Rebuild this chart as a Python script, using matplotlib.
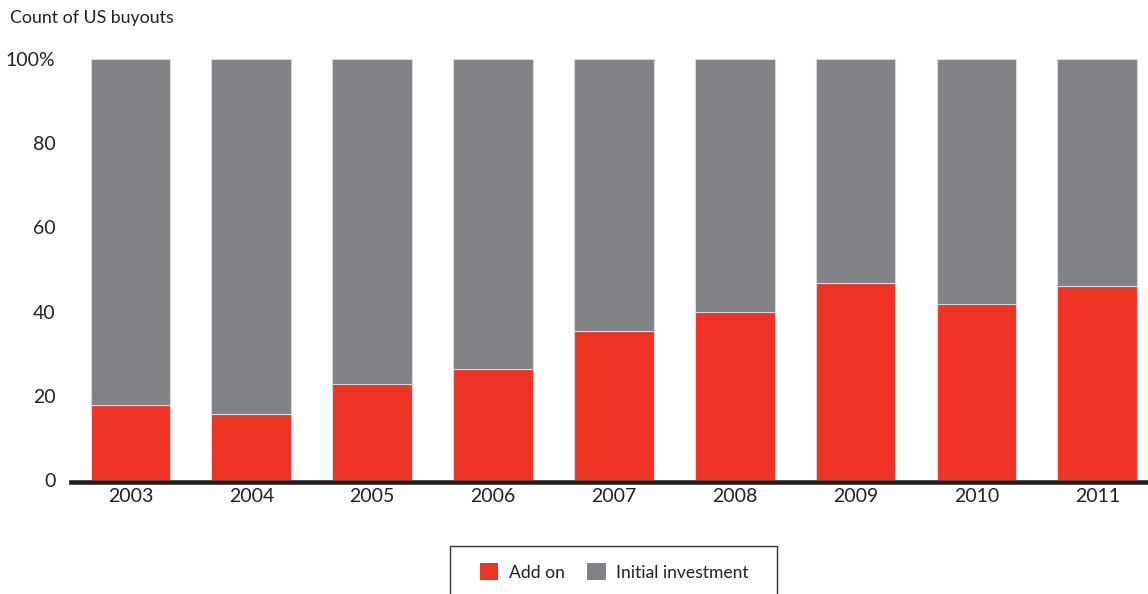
import matplotlib
matplotlib.use("Agg")
import matplotlib.pyplot as plt
import numpy as np
from matplotlib.patches import Patch, Rectangle

# -----------------------------------
# DATA
# -----------------------------------

years = ["2003", "2004", "2005", "2006", "2007", "2008", "2009", "2010", "2011"]

add_on = [17.9, 15.7, 22.9, 26.4, 35.4, 39.8, 46.7, 41.8, 46.0]

initial_investment = [100 - v for v in add_on]

y_ticks = [0, 20, 40, 60, 80, 100]
y_tick_labels = ["0", "20", "40", "60", "80", "100%"]

# -----------------------------------
# STYLE
# -----------------------------------

RED = "#ee3224"
GRAY = "#818286"
EDGE = "#d9d9d9"
TEXT = "#231f20"

plt.rcParams["font.family"] = ["Lato", "DejaVu Sans"]

# -----------------------------------
# FIGURE
# -----------------------------------

fig = plt.figure(figsize=(11.48, 5.94), dpi=100)

ax = fig.add_axes([0.0616, 0.192, 0.9384, 0.7087])

x = np.arange(len(years))

ax.bar(
    x,
    add_on,
    width=0.66,
    color=RED,
    edgecolor=EDGE,
    linewidth=0.8,
    label="Add on"
)

ax.bar(
    x,
    initial_investment,
    bottom=add_on,
    width=0.66,
    color=GRAY,
    edgecolor=EDGE,
    linewidth=0.8,
    label="Initial investment"
)

# thick baseline
ax.axhline(-0.4, color=TEXT, linewidth=3.3, zorder=5, clip_on=False)

ax.set_xlim(-0.495, 8.42)
ax.set_ylim(0, 100)

ax.set_xticks(x)
ax.set_xticklabels(years, fontsize=14, color=TEXT)

ax.set_yticks(y_ticks)
ax.set_yticklabels(y_tick_labels, fontsize=14, color=TEXT)

ax.tick_params(axis="both", length=0)
ax.tick_params(axis="x", pad=6)
ax.tick_params(axis="y", pad=11)

for side in ["top", "right", "left", "bottom"]:
    ax.spines[side].set_visible(False)

# -----------------------------------
# TITLE
# -----------------------------------

fig.text(
    0.009,
    0.97,
    "Count of US buyouts",
    fontsize=12.8,
    color=TEXT,
    ha="left",
    va="center"
)

# -----------------------------------
# LEGEND
# -----------------------------------

handles = [
    Patch(facecolor=RED, edgecolor="none", label="Add on"),
    Patch(facecolor=GRAY, edgecolor="none", label="Initial investment")
]

leg = fig.legend(
    handles=handles,
    loc="center",
    bbox_to_anchor=(0.535, 0.037),
    ncol=2,
    frameon=False,
    fontsize=12.6,
    handlelength=1.05,
    handleheight=1.05,
    handletextpad=0.6,
    columnspacing=1.3,
    borderpad=0.0,
    labelcolor=TEXT
)

# legend box, open at the bottom edge of the picture
fig.patches.append(
    Rectangle(
        (450 / 1148, -0.05),
        327 / 1148,
        0.05 + 48 / 594,
        transform=fig.transFigure,
        fill=False,
        edgecolor="#333333",
        linewidth=1.0
    )
)

fig.savefig("out.png", dpi=100)
